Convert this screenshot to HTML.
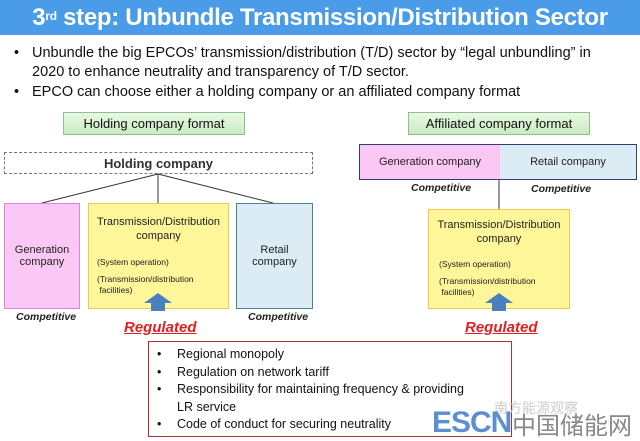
<!DOCTYPE html>
<html><head><meta charset="utf-8"><style>
body{margin:0;width:640px;height:441px;background:#fff;position:relative;overflow:hidden;font-family:"Liberation Sans",sans-serif}
.a{position:absolute;box-sizing:border-box}
.c{display:flex;align-items:center;justify-content:center;text-align:center}
.comp{font-style:italic;font-weight:bold;font-size:10.5px;color:#222}
.reg{font-style:italic;font-weight:bold;font-size:15px;color:#e02020;text-decoration:underline}
.lbl{background:linear-gradient(#e9f8e4,#c9ecc0);border:1px solid #8fbf8a;font-size:13px;color:#111}
</style></head><body>
<div class="a c" style="left:0;top:0;width:640px;height:35px;background:#4a9be8;color:#fff;font-weight:bold;font-size:24px;letter-spacing:-0.3px">3<sup style="font-size:12px;position:relative;top:-2px">rd</sup>&nbsp;step: Unbundle Transmission/Distribution Sector</div>
<div class="a" style="left:14px;top:44px;width:600px;font-size:14.5px;line-height:19px;color:#111">
<div style="padding-left:18px;position:relative">Unbundle the big EPCOs’ transmission/distribution (T/D) sector by “legal unbundling” in<br>2020 to enhance neutrality and transparency of T/D sector.<span style="position:absolute;left:0;top:0">•</span></div>
<div style="padding-left:18px;position:relative;margin-top:1px"><span style="position:absolute;left:0">•</span>EPCO can choose either a holding company or an affiliated company format</div>
</div>
<div class="a c lbl" style="left:63px;top:112px;width:182px;height:23px">Holding company format</div>
<div class="a c lbl" style="left:408px;top:112px;width:182px;height:23px">Affiliated company format</div>
<div class="a c" style="left:4px;top:152px;width:309px;height:22px;border:1.5px dashed #777;font-weight:bold;font-size:13px;color:#333">Holding company</div>
<svg class="a" style="left:0;top:0" width="640" height="441">
<line x1="158" y1="174" x2="42" y2="203" stroke="#333" stroke-width="1"/>
<line x1="158" y1="174" x2="158" y2="203" stroke="#333" stroke-width="1"/>
<line x1="158" y1="174" x2="273" y2="203" stroke="#333" stroke-width="1"/>
<line x1="499" y1="180" x2="499" y2="209" stroke="#333" stroke-width="1"/>
</svg>
<div class="a c" style="left:4px;top:203px;width:76px;height:106px;background:#fbc8f5;border:1.5px solid #d986d3;font-size:11px;color:#222">Generation<br>company</div>
<div class="a" style="left:88px;top:203px;width:141px;height:106px;background:#fff599;border:1.5px solid #f0c850;font-size:11px;color:#222">
<div style="text-align:center;margin-top:11px;line-height:14px">Transmission/Distribution<br>company</div>
<div style="font-size:8.5px;margin:14px 0 0 8px">(System operation)</div>
<div style="font-size:8.5px;margin:7px 0 0 8px;line-height:11px">(Transmission/distribution<br>&nbsp;facilities)</div></div>
<div class="a c" style="left:236px;top:203px;width:77px;height:106px;background:#dcecf4;border:1.5px solid #3f8592;font-size:11px;color:#222">Retail<br>company</div>
<div class="a comp" style="left:16px;top:311px">Competitive</div>
<div class="a comp" style="left:248px;top:311px">Competitive</div>
<div class="a reg" style="left:124px;top:319px">Regulated</div>
<div class="a" style="left:359px;top:144px;width:278px;height:36px;border:1.5px solid #2f3f6f;display:flex;font-size:11px;color:#222">
<div class="c" style="width:140px;background:#fbc8f5">Generation company</div>
<div class="c" style="flex:1;background:#dcecf4">Retail company</div></div>
<div class="a comp" style="left:411px;top:182px">Competitive</div>
<div class="a comp" style="left:531px;top:183px">Competitive</div>
<div class="a" style="left:428px;top:209px;width:142px;height:100px;background:#fff599;border:1.5px solid #f0c850;font-size:11px;color:#222">
<div style="text-align:center;margin-top:8px;line-height:14px">Transmission/Distribution<br>company</div>
<div style="font-size:8.5px;margin:13px 0 0 10px">(System operation)</div>
<div style="font-size:8.5px;margin:7px 0 0 10px;line-height:11px">(Transmission/distribution<br>&nbsp;facilities)</div></div>
<div class="a reg" style="left:465px;top:319px">Regulated</div>
<svg class="a" style="left:0;top:0" width="640" height="441">
<polygon points="158,293 172,303 165,303 165,311 151,311 151,303 144,303" fill="#4a7fc0"/>
<polygon points="499,293 513,303 506,303 506,311 492,311 492,303 485,303" fill="#4a7fc0"/>
</svg>
<div class="a" style="left:148px;top:341px;width:364px;height:96px;border:1.5px solid #b03030;font-size:12.5px;color:#111;line-height:17.5px;padding:4px 0 0 8px">
<div style="padding-left:20px;position:relative"><span style="position:absolute;left:0">•</span>Regional monopoly</div>
<div style="padding-left:20px;position:relative"><span style="position:absolute;left:0">•</span>Regulation on network tariff</div>
<div style="padding-left:20px;position:relative"><span style="position:absolute;left:0">•</span>Responsibility for maintaining frequency &amp; providing<br>LR service</div>
<div style="padding-left:20px;position:relative"><span style="position:absolute;left:0">•</span>Code of conduct for securing neutrality</div></div>
<div class="a" style="left:494px;top:398px;font-size:14px;color:#ccc;font-family:'Noto Sans CJK SC',sans-serif">南方能源观察</div>
<div class="a" style="left:432px;top:406px;font-size:30px;font-weight:bold;color:#5b8fd0;letter-spacing:-1px">ESCN</div>
<div class="a" style="left:512px;top:410px;font-size:24px;color:#888;font-family:'Noto Sans CJK SC',sans-serif;line-height:28px">中国储能网</div>
</body></html>
